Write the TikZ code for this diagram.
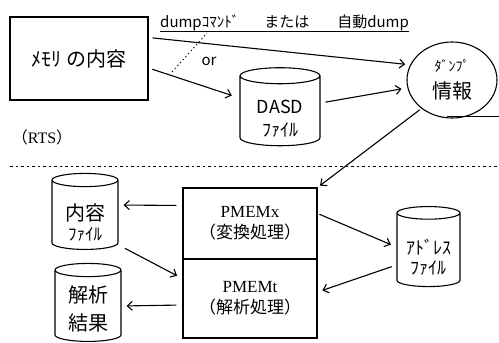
\documentclass[tikz,border=0pt]{standalone}
\usepackage{fontspec}
\setmainfont{Liberation Serif}
\newfontfamily\jp{Noto Sans CJK JP}
\usetikzlibrary{arrows.meta,shapes.geometric}

\tikzset{
  box/.style={draw, line width=1.2pt, inner sep=0pt, align=center},
  file/.style={cylinder, shape border rotate=90, draw, line width=1.1pt, aspect=0.2, inner sep=0pt},
  tag/.style={inner sep=0pt, align=center},
  flow/.style={-{Straight Barb[length=5pt,width=9pt]}, line width=1.1pt},
}
% a can as wide as #1
\newcommand{\canwidth}[1]{\rule{#1}{0pt}}

\begin{document}
\begin{tikzpicture}[x=1pt,y=1pt,yscale=-1,xscale=1]
\useasboundingbox (0,0) rectangle (499,343);

%Shape: Rectangle
\node [box, minimum width=138pt, minimum height=83pt, font=\jp\fontsize{20}{24}\selectfont] (mem) at (79,58.5) {ﾒﾓﾘ の内容};
% Text Node
\node [anchor=base west, inner sep=0pt, font=\jp\fontsize{15}{18}\selectfont] (cmd) at (160,27) {dumpｺﾏﾝﾄﾞ\hspace{25pt}または\hspace{28pt}自動dump};
\draw [line width=0.9pt] ([yshift=4pt]cmd.base west) -- ([yshift=4pt]cmd.base east) ;
%Shape: Can
\node [file, minimum height=78pt] (dasd) at (280,111) {\canwidth{80pt}};
\node [tag, font=\jp\fontsize{18}{23}\selectfont] (dasdtxt) at ([yshift=7.5pt]dasd.center) {DASD\\ﾌｧｲﾙ};
%Shape: Circle
\node [ellipse, draw, line width=1.1pt, minimum width=90pt, minimum height=76pt, inner sep=0pt, align=center, font=\jp\fontsize{20}{27}\selectfont] (dump) at (452,80) {{\fontsize{14}{14}\selectfont ﾀﾞﾝﾌﾟ}\\情報};
% Text Node
\node [tag, font=\jp\fontsize{15}{16}\selectfont] (or) at (209,61) {or};
% Text Node
\node [tag, font=\fontsize{16}{18}\selectfont] (rts) at (42,137) {{\jp （}RTS{\jp ）}};

%Straight Lines
\draw [line width=0.8pt, dash pattern=on 1.5pt off 2.5pt] (172,72) -- (207,33) ;
\draw [line width=0.8pt, dash pattern=on 2.5pt off 3pt] (10,166) -- (499,166) ;
\draw [line width=0.7pt] (447,116) -- (499,116) ;

%Shape: Rectangle
\node [box, minimum width=134pt, minimum height=71pt, font=\fontsize{17}{21}\selectfont] (pmx) at (250,223.5) {PMEMx\\{\jp （変換処理）}};
\node [box, minimum width=134pt, minimum height=79pt, font=\fontsize{17}{21}\selectfont] (pmt) at (250,298.5) {PMEMt\\{\jp （解析処理）}};
%Shape: Can
\node [file, minimum height=76pt] (naiyo) at (85,215) {\canwidth{66pt}};
\node [tag, font=\jp\fontsize{20}{20}\selectfont] (naiyotxt) at ([yshift=7.5pt]naiyo.center) {内容\\{\fontsize{17}{17}\selectfont ﾌｧｲﾙ}};
\node [file, minimum height=78pt] (kekka) at (88,306) {\canwidth{66pt}};
\node [tag, font=\jp\fontsize{20}{28}\selectfont] (kekkatxt) at ([yshift=3pt]kekka.center) {解析\\結果};
\node [file, minimum height=80pt] (addr) at (428.5,250) {\canwidth{63pt}};
\node [tag, font=\jp\fontsize{18}{20}\selectfont] (addrtxt) at ([yshift=7.5pt]addr.center) {ｱﾄﾞﾚｽ\\ﾌｧｲﾙ};

%Straight Lines
\draw [flow, shorten <=4pt, shorten >=5pt] ([yshift=-21pt]mem.east) -- (dump.160) ;
\draw [flow, shorten <=4pt, shorten >=8pt] ([yshift=9.5pt]mem.east) -- ([yshift=-13pt]dasd.west) ;
\draw [flow, shorten <=5pt, shorten >=6pt] ([yshift=-8pt]dasd.east) -- (dump.190) ;
\draw [flow, shorten <=2pt, shorten >=3pt] (dump.223) -- (pmx.north east) ;
\draw [flow, shorten <=6pt, shorten >=5pt] ([yshift=-18pt]pmx.west) -- ([yshift=-10pt]naiyo.east) ;
\draw [flow, shorten <=7pt, shorten >=6pt] ([yshift=30pt]naiyo.east) -- ([yshift=-20pt]pmt.west) ;
\draw [flow, shorten <=6pt, shorten >=5pt] ([yshift=6.5pt]pmt.west) -- (kekka.east) ;
\draw [flow, shorten <=2pt, shorten >=6pt] ([yshift=-10pt]pmx.east) -- ([yshift=-3pt]addr.west) ;
\draw [flow, shorten <=5pt, shorten >=5pt] ([yshift=15pt]addr.west) -- ([yshift=-6.5pt]pmt.east) ;

\end{tikzpicture}
\end{document}
